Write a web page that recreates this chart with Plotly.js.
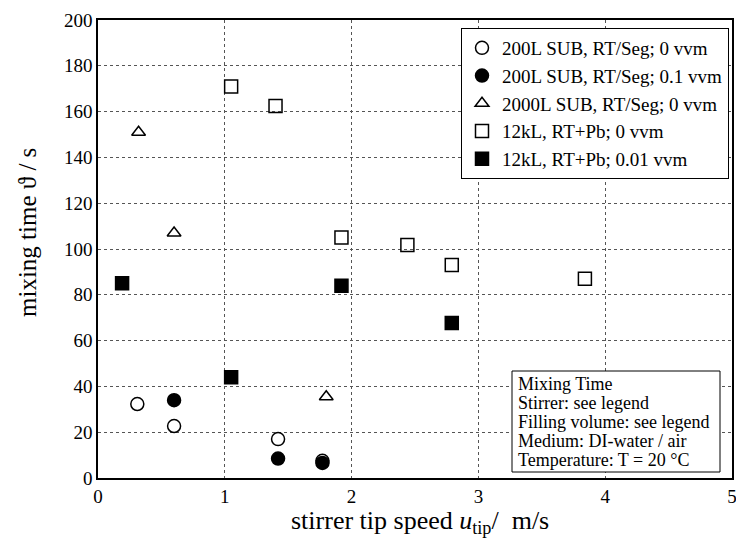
<!DOCTYPE html>
<html><head><meta charset="utf-8">
<script src="https://cdn.plot.ly/plotly-3.0.1.min.js"></script>
<style>body{margin:0;background:#fff}#c{width:736px;height:552px}</style>
</head><body><div id="c"></div>
<script>
const names = ["200L SUB, RT/Seg; 0 vvm","200L SUB, RT/Seg; 0.1 vvm","2000L SUB, RT/Seg; 0 vvm","12kL, RT+Pb; 0 vvm","12kL, RT+Pb; 0.01 vvm"];
const x200_0 = [0.31, 0.60, 1.42, 1.77];
const y200_0 = [32.3, 22.7, 17.0, 7.5];
const x200_01 = [0.60, 1.42, 1.77];
const y200_01 = [34.0, 8.5, 6.6];
const x2000_0 = [0.32, 0.60, 1.80];
const y2000_0 = [151, 107, 35.5];
const x12k_0 = [1.05, 1.40, 1.92, 2.44, 2.79, 3.84];
const y12k_0 = [171, 162.4, 105, 101.7, 93, 87];
const x12k_001 = [0.19, 1.05, 1.92, 2.79];
const y12k_001 = [85, 44, 84, 67.7];
const xTicks = [0,1,2,3,4,5];
const yTicks = [0,20,40,60,80,100,120,140,160,180,200];
const infoLines = ["Mixing Time","Stirrer: see legend","Filling volume: see legend","Medium: DI-water / air","Temperature: T = 20 °C"];

const F = "Liberation Serif, DejaVu Serif, serif";
function tr(x,y,name,symbol,size,i){
  return {x:x,y:y,name:name,type:'scatter',mode:'markers',legendgroup:'g'+i,
    marker:{symbol:symbol,size:size,color:'#000',line:{color:'#000',width:1.5}}};
}
const data = [
  tr(x200_0,y200_0,names[0],'circle-open',13,0),
  tr(x200_01,y200_01,names[1],'circle',13,1),
  tr(x2000_0,y2000_0,names[2],'triangle-up-open',12,2),
  tr(x12k_0,y12k_0,names[3],'square-open',13,3),
  tr(x12k_001,y12k_001,names[4],'square',13,4)
];
const ax = {showgrid:true,gridcolor:'#555',griddash:'dot',gridwidth:1,zeroline:false,
  showline:true,linecolor:'#000',linewidth:1.5,mirror:true,ticks:'',ticklabeloverflow:'allow',
  tickfont:{family:F,size:19,color:'#000'}};
// plot area in px: x 98..732, y 20..478
const px = v => (v-98)/634, py = v => (478-v)/458;
const anns = infoLines.map((t,i)=>({xref:'paper',yref:'paper',x:px(516),y:py(384+19*i),xanchor:'left',yanchor:'middle',
  showarrow:false,text:t,font:{family:F,size:18,color:'#000'}}));
anns.push({xref:'paper',yref:'paper',x:px(27),y:py(233),xanchor:'center',yanchor:'middle',textangle:-90,showarrow:false,
  text:"mixing time ϑ / s",font:{family:F,size:25,color:'#000'}});
anns.push({xref:'paper',yref:'paper',x:px(420),y:py(522),xanchor:'center',yanchor:'middle',showarrow:false,
  text:"stirrer tip speed <i>u</i><sub>tip</sub>/  m/s",font:{family:F,size:26,color:'#000'}});
const layout = {
  width:736,height:552,margin:{l:98,r:4,t:20,b:74},
  paper_bgcolor:'#fff',plot_bgcolor:'#fff',
  font:{family:F,color:'#000'},
  xaxis:Object.assign({},ax,{range:[0,5],tickvals:xTicks,ticktext:xTicks.map(String)}),
  yaxis:Object.assign({},ax,{range:[0,200],tickvals:yTicks,ticktext:yTicks.map(String)}),
  showlegend:true,
  legend:{x:px(729),y:py(28),xanchor:'right',yanchor:'top',bgcolor:'#fff',bordercolor:'#000',borderwidth:1,
    font:{family:F,size:19,color:'#000'},itemwidth:30,traceorder:'grouped',tracegroupgap:0},
  shapes:[{type:'rect',xref:'paper',yref:'paper',x0:px(512),x1:px(720),y0:py(472),y1:py(371),
    line:{color:'#000',width:1},fillcolor:'#fff',layer:'above'}],
  annotations:anns
};
Plotly.newPlot('c',data,layout,{displayModeBar:false});
</script></body></html>
